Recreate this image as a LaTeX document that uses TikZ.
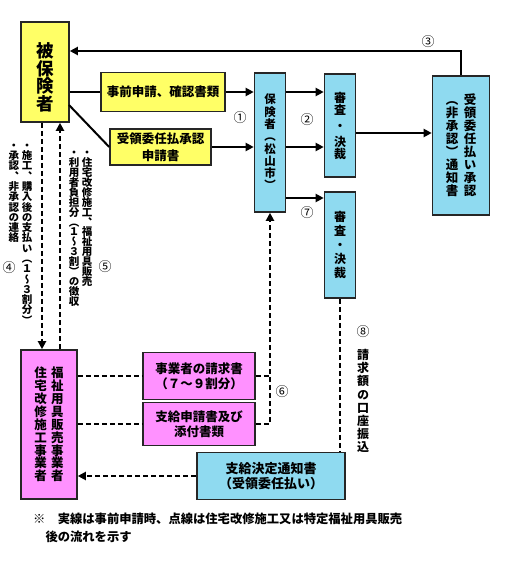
\documentclass[tikz,border=0pt]{standalone}
\usepackage{fontspec}
\usetikzlibrary{arrows.meta}
\setmainfont{Noto Sans CJK JP}
\newfontfamily\jpv{Noto Sans CJK JP}[RawFeature={+vert}]
\definecolor{boxyellow}{RGB}{255,255,102}
\definecolor{boxblue}{RGB}{143,218,240}
\definecolor{boxpink}{RGB}{255,145,255}
\makeatletter
\newcommand\vst[2][1]{\vbox{\offinterlineskip\@tfor\vst@c:=#2\do{\vbox to #1em{\vss\hbox to 1em{\hss\vrule width0pt height.88em depth.12em\vst@c\hss}\vss}}}}
\makeatother
\begin{document}
\begin{tikzpicture}[x=1pt,y=-1pt,
  box/.style={draw=black!85, line width=1.6pt, inner sep=0pt, align=center},
  ybox/.style={box, fill=boxyellow},
  bbox/.style={box, fill=boxblue},
  pbox/.style={box, fill=boxpink},
  htext/.style={font=\fontsize{12.5}{17}\selectfont\bfseries},
  conn/.style={line width=2pt},
  dsh/.style={conn, dash pattern=on 5pt off 3pt},
  arr/.style={-{Triangle[length=8pt,width=8pt]}},
  num/.style={inner sep=0pt, font=\fontsize{13}{13}\selectfont},
  vlab/.style={inner sep=0pt, anchor=north},
  small/.style={font=\fontsize{10.5}{10.5}\jpv\bfseries},
]
\fill[white] (0,0) rectangle (508,580);
\useasboundingbox (0,0) rectangle (508,580);

% boxes
\node[ybox, minimum width=48pt, minimum height=100pt] (hi) at (45,72) {};
\node[inner sep=0pt, font=\fontsize{17.5}{17.5}\jpv\bfseries] (hiT) at (45,77.5) {\vst[1.01]{被保険者}};
\node[ybox, htext, minimum width=124pt, minimum height=39pt] (jz) at (163,92) {事前申請、確認書類};
\node[ybox, htext, minimum width=101pt, minimum height=36pt] (jr) at (160.5,147) {受領委任払承認\\申請書};
\node[bbox, minimum width=31pt, minimum height=139pt, font=\fontsize{11.5}{11.5}\jpv\bfseries] (hk) at (270,142.5) {\vst[1.07]{保険者（松山市）}};
\node[bbox, minimum width=31pt, minimum height=103pt, font=\fontsize{12}{12}\jpv\bfseries] (sk1) at (340,125.5) {\vbox{\offinterlineskip\vst{審査}\vst[1.67]{・}\vst{決裁}}};
\node[bbox, minimum width=57pt, minimum height=139pt, font=\fontsize{12.5}{12.5}\jpv\bfseries] (ts) at (461,145.5) {\vst[1.04]{（非承認）通知書}\hspace{5.5pt}\vst[1.04]{受領委任払い承認}};
\node[bbox, minimum width=31pt, minimum height=106pt, font=\fontsize{12}{12}\jpv\bfseries] (sk2) at (340,245) {\vst[1.17]{審査・決裁}};
\node[pbox, minimum width=56pt, minimum height=149pt, font=\fontsize{12.5}{12.5}\jpv\bfseries] (fk) at (49,424.5) {\vst[1.03]{住宅改修施工事業者}\hspace{4.5pt}\vst[1.03]{福祉用具販売事業者}};
\node[pbox, minimum width=112pt, minimum height=47pt, font=\fontsize{12.5}{15.5}\selectfont\bfseries] (sq) at (199,376) {事業者の請求書\\（７～９割分）};
\node[pbox, minimum width=112pt, minimum height=43pt, font=\fontsize{12.5}{15.5}\selectfont\bfseries] (ss) at (199,424) {支給申請書及び\\添付書類};
\node[bbox, minimum width=148pt, minimum height=47pt, font=\fontsize{13}{15.5}\selectfont\bfseries] (kt) at (271,476) {支給決定通知書\\（受領委任払い）};

% connectors
\coordinate (hiD) at (69,105);
\draw[conn] (jz.west) -- (jz.west -| hi.east);
\draw[conn,arr] (jz.east) -- (jz.east -| hk.west);
\draw[conn] (hiD) -- (jr.west);
\draw[conn,arr] (jr.east) -- (jr.east -| hk.west);
\draw[conn,arr] (hk.east |- jz.east) -- (sk1.west |- jz.east);
\draw[conn,arr] (hk.east |- jr.east) -- (sk1.west |- jr.east);
\coordinate (sk1o) at (sk1.east |- 0,133);
\draw[conn,arr] (sk1o) -- (sk1o -| ts.west);
\coordinate (c3) at (ts.north |- 0,51);
\draw[conn,arr] (ts.north) -- (c3) -- (c3 -| hi.east);
\coordinate (hk7) at (hk.east |- 0,198);
\draw[conn,arr] (hk7) -- (hk7 -| sk2.west);
\draw[dsh] (sk2.south) -- (sk2.south |- kt.north);
\coordinate (a4) at ([xshift=-3pt]hi.south);
\coordinate (a5) at ([xshift=15pt]hi.south);
\draw[dsh,arr] (a4) -- (a4 |- fk.north);
\draw[dsh,arr] (a5 |- fk.north) -- (a5);
\draw[dsh] (fk.east |- sq.west) -- (sq.west);
\draw[dsh] (fk.east |- ss.west) -- (ss.west);
\draw[dsh] (sq.east) -- (sq.east -| hk.south);
\draw[dsh,arr] (ss.east) -| (hk.south);
\draw[dsh,arr] (kt.west) -- (kt.west -| fk.east);

% numbers
\node[num] (n1) at (240,118) {①};
\node[num] (n2) at (307,120) {②};
\node[num] (n3) at (428,42) {③};
\node[num] (n4) at (9,268) {④};
\node[num] (n5) at (105,267) {⑤};
\node[num] (n6) at (282,392) {⑥};
\node[num] (n7) at (307,213) {⑦};
\node[num] (n8) at (363,332) {⑧};

% vertical labels
\node[vlab, small] (t4a) at (27,140) {\vst[0.98]{・施工、購入後の支払い（１～３割分）}};
\node[vlab, small] (t4b) at (14,140) {\vst[0.98]{・承認、非承認の連絡}};
\node[vlab, small] (t5a) at (87,147) {\vst[0.95]{・住宅改修施工、福祉用具販売}};
\node[vlab, small] (t5b) at (74,147) {\vst[0.95]{・利用者負担分（１～３割）の徴収}};
\node[vlab, font=\fontsize{12}{12}\jpv\bfseries] (t8) at (363,348.5) {\vst[1.09]{請求額の口座振込}};

% footnote
\node[anchor=base west, inner sep=0pt, font=\fontsize{12.3}{12.3}\selectfont\bfseries] (fn1) at (33,523.6) {※　実線は事前申請時、点線は住宅改修施工又は特定福祉用具販売};
\node[anchor=base west, inner sep=0pt, font=\fontsize{12.3}{12.3}\selectfont\bfseries] (fn2) at (33,541.6) {　後の流れを示す};
\end{tikzpicture}
\end{document}
